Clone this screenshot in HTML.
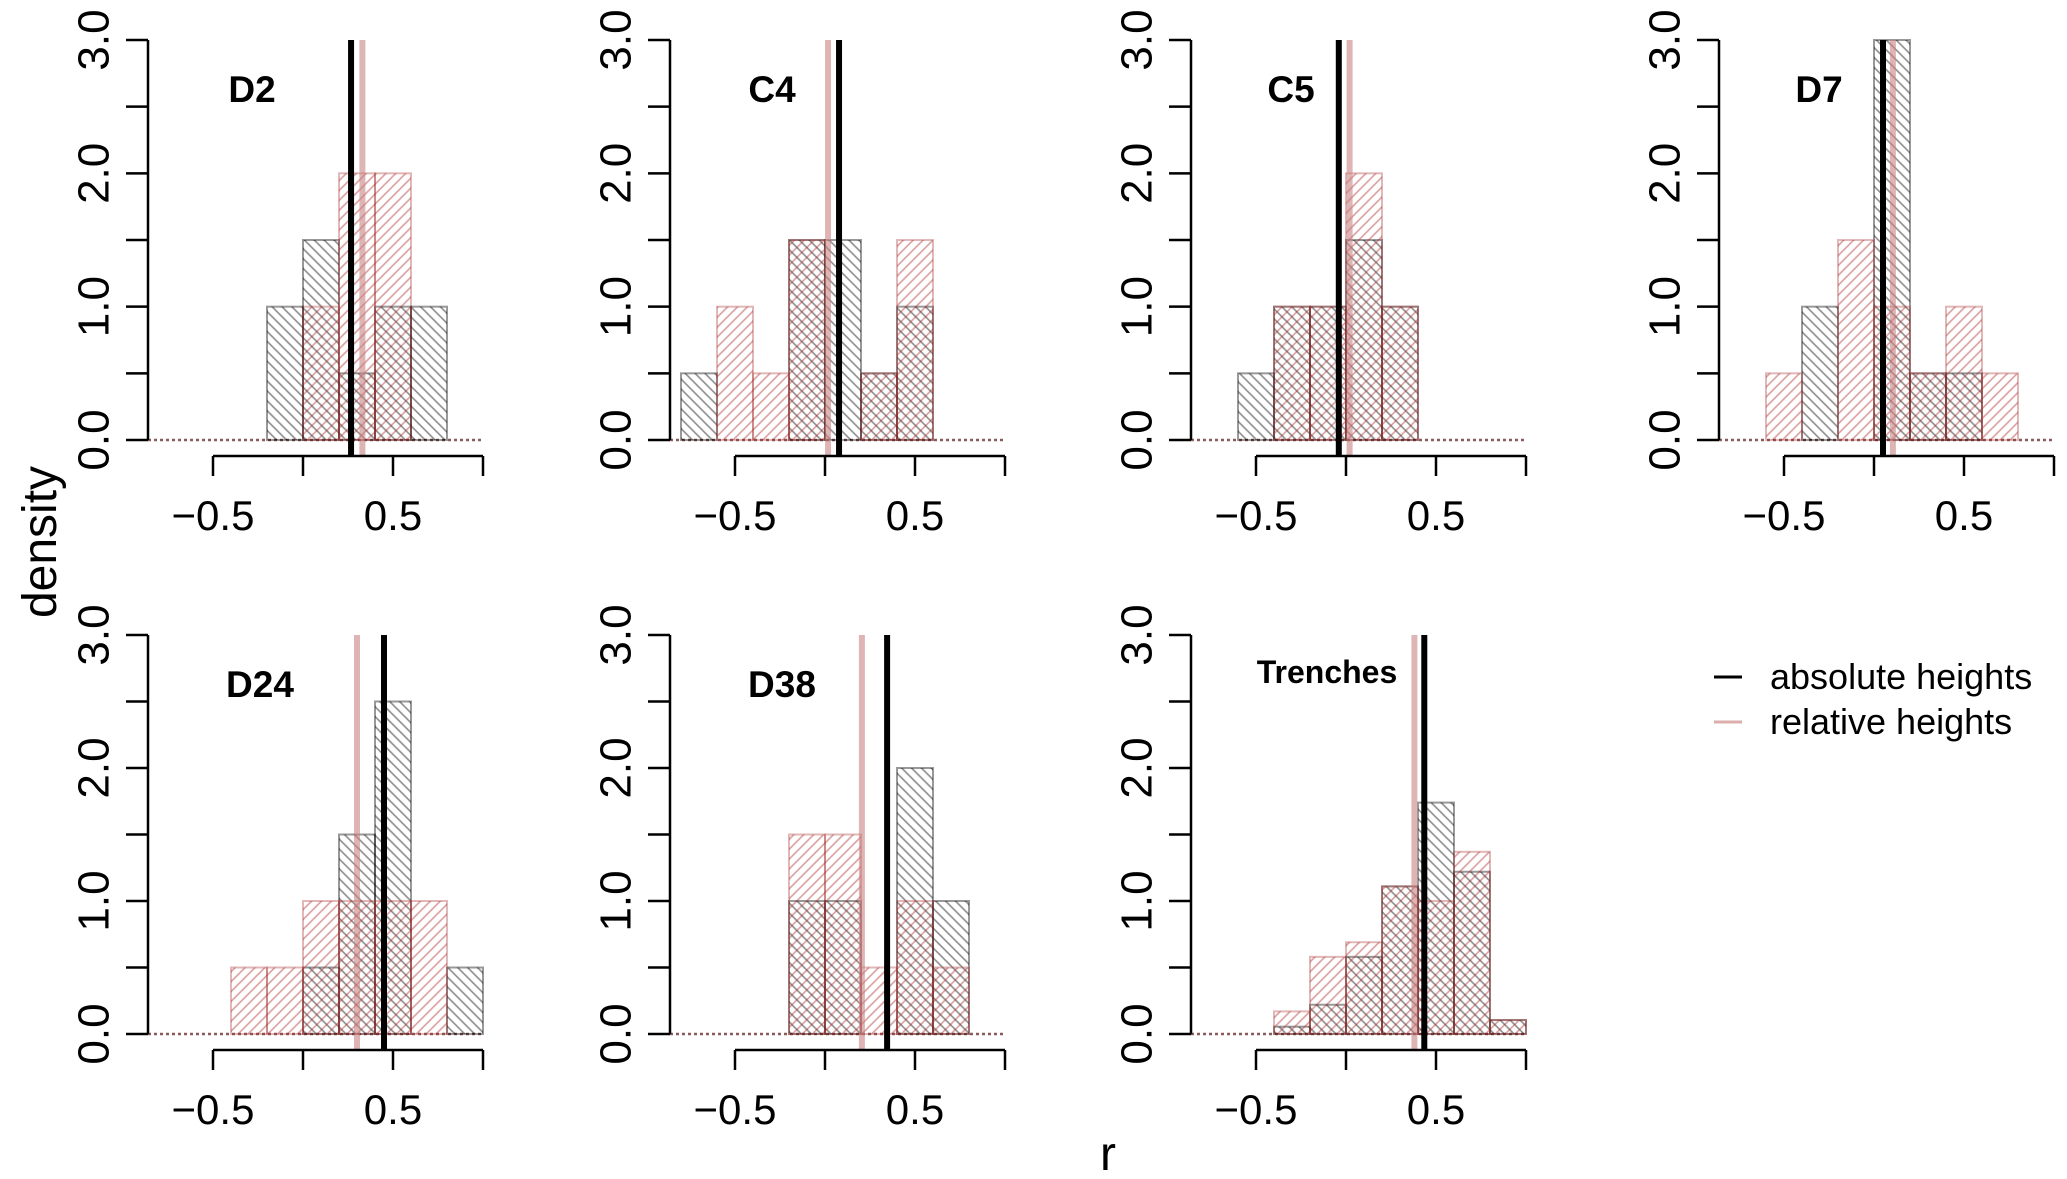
<!DOCTYPE html>
<html><head><meta charset="utf-8">
<style>
html,body{margin:0;padding:0;background:#fff;}
svg{display:block;font-family:"Liberation Sans",Arial,sans-serif;}
</style></head>
<body>
<svg id="chart" width="2067" height="1179" viewBox="0 0 2067 1179" xmlns="http://www.w3.org/2000/svg">
<defs>
<pattern id="hatchBlack" patternUnits="userSpaceOnUse" width="7" height="7" patternTransform="rotate(45)">
<line x1="0" y1="3.5" x2="7" y2="3.5" stroke="rgba(0,0,0,0.45)" stroke-width="1.6"/>
</pattern>
<pattern id="hatchRed" patternUnits="userSpaceOnUse" width="7" height="7" patternTransform="rotate(-45)">
<line x1="0" y1="3.5" x2="7" y2="3.5" stroke="rgba(170,40,40,0.45)" stroke-width="1.6"/>
</pattern>
</defs>
<g id="panels"></g>
<text x="0" y="0" transform="translate(56,542) rotate(-90)" font-size="48" text-anchor="middle">density</text>
<text x="1108" y="1170" font-size="48" text-anchor="middle">r</text>
<g>
<line x1="1714" y1="677" x2="1742" y2="677" stroke="#000" stroke-width="3"/>
<text x="1770" y="689" font-size="36">absolute heights</text>
<line x1="1714" y1="722" x2="1742" y2="722" stroke="#dcaeae" stroke-width="3"/>
<text x="1770" y="734" font-size="36">relative heights</text>
</g>
</svg>
<script>
const panelNames = ["D2","C4","C5","D7","D24","D38","Trenches"];
const binEdges = [-0.8,-0.6,-0.4,-0.2,0,0.2,0.4,0.6,0.8,1.0];
const blackD2 = [0,0,0,1,1.5,0.5,1,1,0];
const redD2 = [0,0,0,0,1,2,2,0,0];
const blackC4 = [0.5,0,0,1.5,1.5,0.5,1,0,0];
const redC4 = [0,1,0.5,1.5,0,0.5,1.5,0,0];
const blackC5 = [0,0.5,1,1,1.5,1,0,0,0];
const redC5 = [0,0,1,1,2,1,0,0,0];
const blackD7 = [0,0,1,0,3,0.5,0.5,0,0];
const redD7 = [0,0.5,0,1.5,1,0.5,1,0.5,0];
const blackD24 = [0,0,0,0,0.5,1.5,2.5,0,0.5];
const redD24 = [0,0,0.5,0.5,1,1,1,1,0];
const blackD38 = [0,0,0,1,1,0,2,1,0];
const redD38 = [0,0,0,1.5,1.5,0.5,1,0.5,0];
const blackTr = [0,0,0.055,0.22,0.58,1.11,1.74,1.22,0.105];
const redTr = [0,0,0.17,0.58,0.69,1.11,1.0,1.37,0.105];
const blackSeries = [blackD2,blackC4,blackC5,blackD7,blackD24,blackD38,blackTr];
const redSeries = [redD2,redC4,redC5,redD7,redD24,redD38,redTr];
const absMeans = [0.267,0.078,-0.04,0.05,0.45,0.345,0.435];
const relMeans = [0.33,0.017,0.02,0.105,0.30,0.205,0.38];
const xTicks = [-0.5,0,0.5,1.0];
const xTickLabels = ["\u22120.5","","0.5",""];
const yTicks = [0,0.5,1,1.5,2,2.5,3];
const yTickLabels = ["0.0","","1.0","","2.0","","3.0"];

// layout (pixels)
const zeroX = [303,825,1346,1874,303,825,1346];
const rowY0 = [440,440,440,440,1034,1034,1034];
const rowTop = [40,40,40,40,635,635,635];
const titleDx = [104,102,100,100,112,112,136];
const titleBase = [102,102,102,102,697,697,683];
const titleSize = [37,37,37,37,37,37,32];

const NS = "http://www.w3.org/2000/svg";
const root = document.getElementById("panels");
function mk(tag, attrs, parent){
  const e = document.createElementNS(NS, tag);
  for (const k in attrs) e.setAttribute(k, attrs[k]);
  (parent||root).appendChild(e);
  return e;
}
for (let p=0;p<panelNames.length;p++){
  const zx = zeroX[p], y0 = rowY0[p], yt = rowTop[p];
  const xs = v => zx + v*180;
  const ys = v => y0 - v*(y0-yt)/3;
  const axisX = zx - 155;
  const g = mk("g",{});
  
  
  const bl = mk("line",{x1:axisX,y1:y0,x2:xs(1.0),y2:y0,stroke:"rgba(110,50,50,0.8)","stroke-width":2.5,"stroke-dasharray":"3 3"},g);
  
  
  const series = [[blackSeries[p],"url(#hatchBlack)","rgba(0,0,0,0.4)","black"],[redSeries[p],"url(#hatchRed)","rgba(170,50,50,0.35)","red"]];
  for (const [vals,fill,stroke,nm] of series){
    for (let i=0;i<vals.length;i++){
      if (vals[i]<=0) continue;
      const r = mk("rect",{x:xs(binEdges[i]),y:ys(vals[i]),width:xs(binEdges[i+1])-xs(binEdges[i]),height:y0-ys(vals[i]),fill:fill,stroke:stroke,"stroke-width":2},g);
      
      
    }
  }
  const xAxisY = y0 + 16;
  const la = mk("line",{x1:xs(absMeans[p]),y1:yt,x2:xs(absMeans[p]),y2:xAxisY,stroke:"#000","stroke-width":6},g);
  
  
  const lr = mk("line",{x1:xs(relMeans[p]),y1:yt,x2:xs(relMeans[p]),y2:xAxisY,stroke:"rgba(200,130,130,0.6)","stroke-width":6},g);
  
  
  const ya = mk("line",{x1:axisX,y1:ys(0),x2:axisX,y2:ys(3),stroke:"#000","stroke-width":2.5},g);
  
  
  for (let i=0;i<yTicks.length;i++){
    const ty = ys(yTicks[i]);
    const t = mk("line",{x1:axisX-22,y1:ty,x2:axisX,y2:ty,stroke:"#000","stroke-width":2.5},g);
    
    
    if (yTickLabels[i]){
      const tx = mk("text",{transform:`translate(${axisX-54},${ty}) rotate(-90)`,"font-size":44,"text-anchor":"middle","dominant-baseline":"central"},g);
      tx.textContent = yTickLabels[i];
      
      
    }
  }
  const xa = mk("line",{x1:xs(-0.5),y1:xAxisY,x2:xs(1.0),y2:xAxisY,stroke:"#000","stroke-width":2.5},g);
  
  
  for (let i=0;i<xTicks.length;i++){
    const tx0 = xs(xTicks[i]);
    const t = mk("line",{x1:tx0,y1:xAxisY,x2:tx0,y2:xAxisY+20,stroke:"#000","stroke-width":2.5},g);
    
    
    if (xTickLabels[i]){
      const lb = mk("text",{x:tx0,y:xAxisY+74,"font-size":42,"text-anchor":"middle"},g);
      lb.textContent = xTickLabels[i];
      
      
    }
  }
  const tt = mk("text",{x:axisX+titleDx[p],y:titleBase[p],"font-size":titleSize[p],"font-weight":"bold","text-anchor":"middle"},g);
  tt.textContent = panelNames[p];
  
  
}
</script>
</body></html>
